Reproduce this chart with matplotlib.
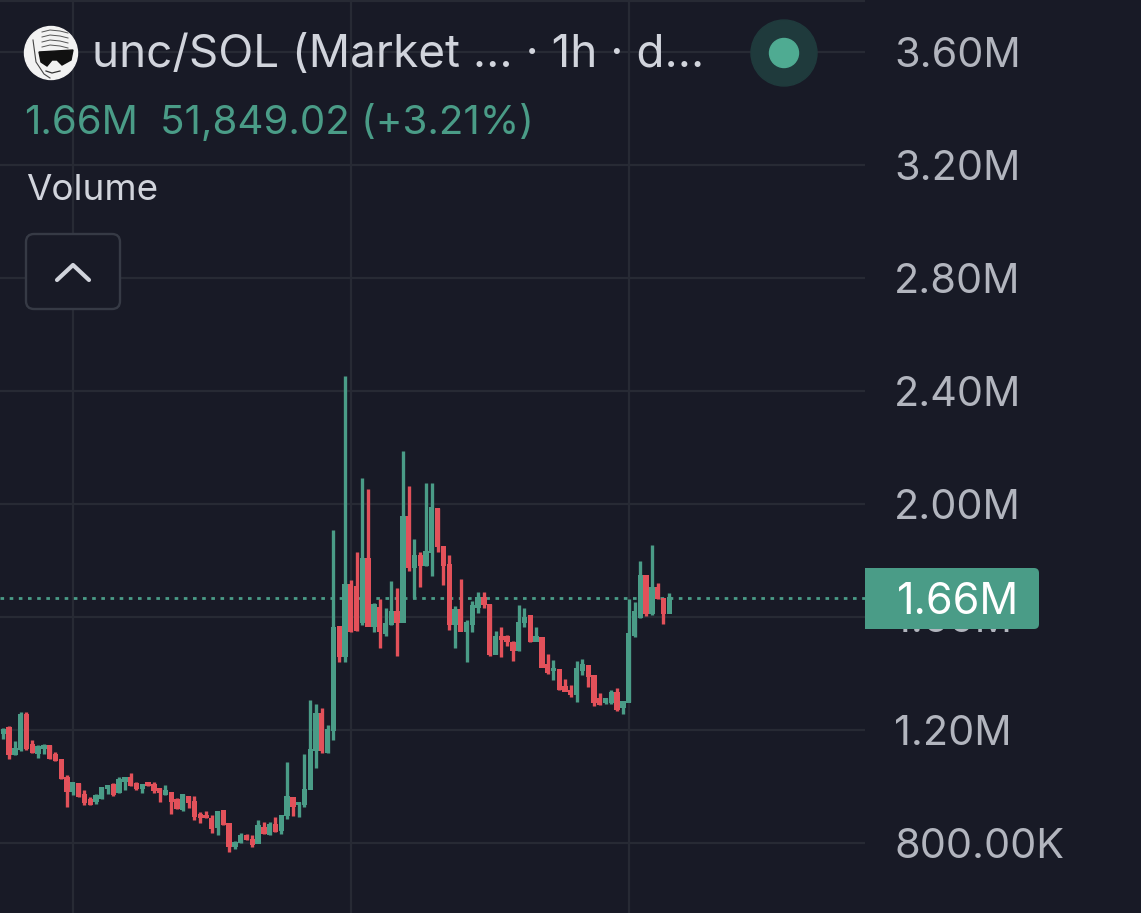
import matplotlib
matplotlib.use('Agg')
import matplotlib.pyplot as plt
from matplotlib.patches import Circle, FancyBboxPatch, Polygon
import numpy as np

# candle values in thousands
opens = [1188, 1208, 1114, 1132, 1253, 1147, 1118, 1133, 1143, 1112, 1094, 1033, 984, 1011, 970, 952,
         946, 958, 994, 1005, 978, 1017, 1033, 1011, 994, 1013, 1005, 992, 971, 978, 952, 919,
         964, 945, 899, 898, 887, 854, 914, 870, 787, 801, 825, 813, 799, 856, 831, 864, 846, 896,
         962, 935, 938, 990, 1129, 1259, 1120, 1200, 1565, 1462, 1713, 1706, 1582, 1805, 1565, 1635,
         1543, 1572, 1618, 1582, 1954, 1777, 1816, 1781, 1830, 1982, 1848, 1784, 1572, 1625, 1550, 1575,
         1635, 1667, 1643, 1469, 1529, 1529, 1508, 1480, 1579, 1604, 1515, 1526, 1430, 1409, 1412, 1352,
         1338, 1327, 1412, 1427, 1391, 1310, 1296, 1296, 1331, 1278, 1299, 1536, 1597, 1745, 1614, 1703,
         1664, 1614]
closes = [1200, 1112, 1135, 1253, 1135, 1121, 1141, 1143, 1098, 1093, 1028, 982, 1013, 966, 943, 938,
          966, 997, 1002, 973, 1023, 1030, 1004, 992, 1005, 1004, 985, 978, 985, 946, 921, 970,
          943, 893, 891, 889, 852, 911, 867, 789, 802, 825, 813, 796, 860, 834, 864, 842, 897, 964,
          931, 943, 990, 1132, 1259, 1127, 1200, 1561, 1462, 1713, 1547, 1554, 1805, 1568, 1643, 1547,
          1575, 1618, 1582, 1954, 1777, 1816, 1781, 1830, 1986, 1848, 1781, 1572, 1625, 1550, 1579, 1639,
          1667, 1643, 1469, 1529, 1522, 1512, 1480, 1579, 1597, 1515, 1529, 1423, 1402, 1416, 1345, 1338,
          1327, 1416, 1430, 1388, 1299, 1292, 1310, 1331, 1274, 1299, 1540, 1618, 1745, 1614, 1703, 1667,
          1614, 1667]
highs = [1206, 1214, 1161, 1263, 1263, 1165, 1147, 1150, 1147, 1122, 1094, 1041, 1017, 1013, 988, 964,
         973, 999, 1005, 1013, 1033, 1033, 1049, 1017, 1009, 1016, 1016, 996, 1004, 981, 958, 973,
         966, 966, 911, 913, 899, 913, 917, 872, 807, 834, 832, 828, 881, 874, 874, 891, 899, 1086,
         964, 946, 1115, 1306, 1292, 1277, 1218, 1908, 1565, 2453, 1731, 1830, 2092, 2053, 1650, 1664,
         1632, 1727, 1703, 2188, 2064, 1876, 1830, 2074, 2074, 1986, 1848, 1820, 1639, 1735, 1589, 1657,
         1689, 1689, 1646, 1550, 1565, 1536, 1515, 1643, 1632, 1607, 1565, 1529, 1469, 1448, 1416, 1381,
         1359, 1444, 1451, 1430, 1395, 1331, 1313, 1342, 1349, 1299, 1664, 1653, 1798, 1749, 1855, 1720,
         1667, 1685]
lows = [1168, 1097, 1112, 1127, 1129, 1118, 1102, 1115, 1096, 1090, 1025, 927, 970, 964, 935, 935,
        938, 956, 973, 966, 978, 988, 1002, 988, 978, 1002, 978, 945, 970, 903, 920, 913,
        924, 881, 872, 887, 836, 828, 865, 769, 780, 799, 811, 787, 799, 832, 828, 840, 832, 884,
        896, 891, 929, 990, 1064, 1120, 1118, 1165, 1441, 1441, 1547, 1550, 1572, 1568, 1547, 1490,
        1533, 1572, 1462, 1582, 1763, 1667, 1706, 1781, 1745, 1830, 1713, 1554, 1490, 1550, 1441, 1547,
        1614, 1632, 1462, 1469, 1458, 1497, 1444, 1480, 1565, 1512, 1515, 1423, 1398, 1377, 1342, 1338,
        1317, 1299, 1395, 1352, 1285, 1289, 1292, 1292, 1267, 1257, 1299, 1529, 1597, 1604, 1607, 1664,
        1575, 1614]

price_ticks = [800, 1200, 1600, 2000, 2400, 2800, 3200, 3600]
price_labels = ['800.00K', '1.20M', '1.60M', '2.00M', '2.40M', '2.80M', '3.20M', '3.60M']
time_grid = [12, 60, 108]

BG = '#181a26'
GRID = '#272a34'
GREEN = '#4a9c87'
RED = '#e2515a'
TEXT = '#d1d4dc'
AXIS_TEXT = '#b2b5be'

plt.rcParams['font.family'] = ['Inter', 'DejaVu Sans']

W, H = 1141, 913
fig = plt.figure(figsize=(W / 100, H / 100), dpi=100, facecolor=BG)

# chart pane stops where the price scale starts
ax = fig.add_axes([0, 0, 865 / W, 1], facecolor=BG)
ax.set_xlim(-0.57, 148.8)
ax.set_ylim(552, 3784)
for spine in ax.spines:
    ax.spines[spine].set_visible(False)

ax.hlines(price_ticks + [3780], -0.57, 148.8, color=GRID, linewidth=1.6, zorder=1)
ax.vlines(time_grid, 552, 3784, color=GRID, linewidth=1.6, zorder=1)
ax.hlines(closes[-1], -0.57, 148.8, color=GREEN, linewidth=2, linestyle=(0, (1.3, 2)), zorder=2)

x = np.arange(len(opens))
o = np.array(opens)
c = np.array(closes)
candle_colors = [GREEN if b >= a else RED for a, b in zip(opens, closes)]
ax.vlines(x, lows, highs, color=candle_colors, linewidth=2.4, zorder=3)
ax.bar(x, np.abs(c - o) + 4, bottom=np.minimum(o, c) - 2, width=0.92, color=candle_colors, zorder=3)

ax.set_xticks([])
ax.yaxis.tick_right()
ax.set_yticks(price_ticks)
ax.set_yticklabels(price_labels, color=AXIS_TEXT, fontsize=29.8)
ax.tick_params(axis='y', length=0, pad=21)

# legend, button and price tag sit on top, placed in pixels
ui = fig.add_axes([0, 0, 1, 1], zorder=5)
ui.set_xlim(0, W)
ui.set_ylim(H, 0)
ui.axis('off')

ui.add_patch(Circle((51, 53), 26.5, color='#f2f2f2'))
ui.add_patch(Polygon([(39, 52), (73, 50), (71, 60), (62, 65), (57, 60), (52, 60), (47, 66), (41, 62)], color='#111111'))
for yy in [30, 35, 40, 45]:
    ui.plot([42, 50, 60, 68], [yy + 2, yy, yy + 1, yy + 3], color='#555555', linewidth=0.7)
ui.plot([33, 36, 44, 50, 50], [40, 62, 74, 78, 78], color='#444444', linewidth=0.8)
ui.plot([46, 52, 60], [71, 73, 71], color='#333333', linewidth=0.9)

ui.text(92, 55, 'unc/SOL (Market ... \u00b7 1h \u00b7 d...', color=TEXT, fontsize=33, va='center', ha='left')
ui.text(24, 123, '1.66M', color=GREEN, fontsize=29, va='center', ha='left')
ui.text(160, 123, '51,849.02 (+3.21%)', color=GREEN, fontsize=29, va='center', ha='left')
ui.text(26, 190, 'Volume', color=TEXT, fontsize=26.5, va='center', ha='left')

ui.add_patch(FancyBboxPatch((30, 238), 86, 67, boxstyle='round,pad=4,rounding_size=8',
                            facecolor=BG, edgecolor='#363a45', linewidth=1.7))
ui.plot([57, 73, 89], [280, 265, 280], color=TEXT, linewidth=3, solid_capstyle='round', solid_joinstyle='round')

ui.add_patch(Circle((784, 53), 33, color='#1f3a3c'))
ui.add_patch(Circle((784, 53), 14.5, color='#4fab92'))

ui.add_patch(FancyBboxPatch((869, 572), 166, 53, boxstyle='round,pad=4,rounding_size=5',
                            facecolor=GREEN, edgecolor='none'))
ui.add_patch(plt.Rectangle((865, 568), 10, 61, color=GREEN, linewidth=0))
ui.text(897, 602, '1.66M', color='#ffffff', fontsize=31, va='center', ha='left')

fig.savefig('out.png', dpi=100, facecolor=BG)
